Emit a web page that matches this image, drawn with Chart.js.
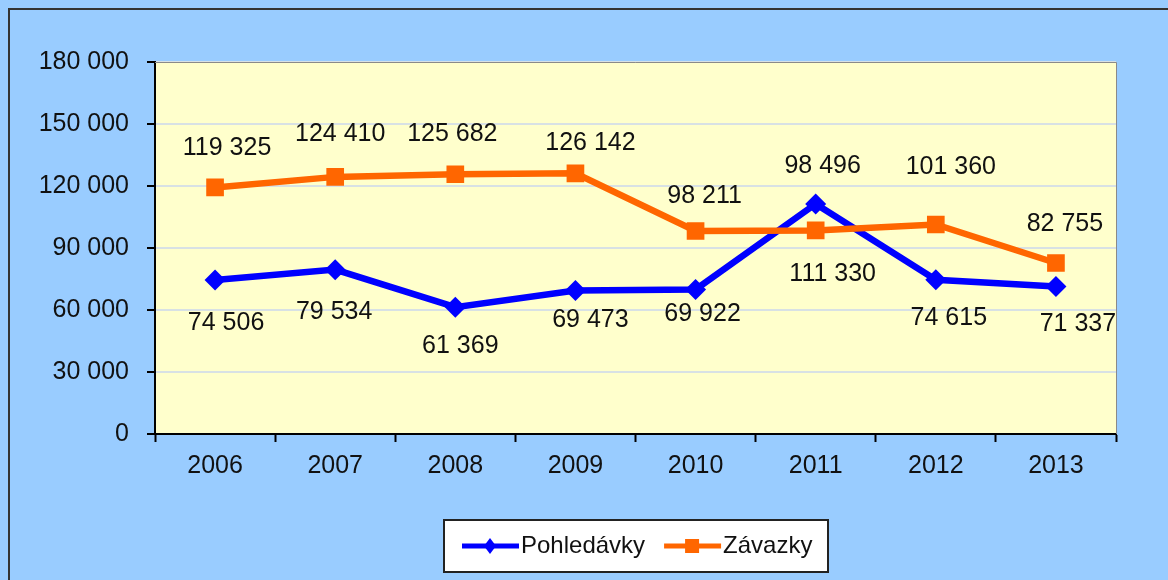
<!DOCTYPE html>
<html>
<head>
<meta charset="utf-8">
<script src="https://cdn.jsdelivr.net/npm/chart.js@4/dist/chart.umd.min.js"></script>
<style>
    html, body { margin: 0; padding: 0; background: #99CCFF; }
    #wrap { width: 1168px; height: 580px; position: relative; }
</style>
</head>
<body>
<div id="wrap"><canvas id="chart" width="1168" height="580"></canvas></div>
<script>
// data
const years = ['2006', '2007', '2008', '2009', '2010', '2011', '2012', '2013'];
const pohledavky = [74506, 79534, 61369, 69473, 69922, 111330, 74615, 71337];
const zavazky = [119325, 124410, 125682, 126142, 98211, 98496, 101360, 82755];
const yTicks = [0, 30000, 60000, 90000, 120000, 150000, 180000];

// label nudges (px) - labels in the original were moved by hand
const pohLabelDx = [11, -1, 5, 15, 7, 17, 13, 22];
const pohLabelDy = [43, 42, 39, 30, 25, 70, 38, 38];
const zavLabelDx = [12, 5, -3, 15, 9, 7, 15, 9];
const zavLabelDy = [-39, -43, -40, -30, -35, -64, -57, -39];

const FONT = '"Liberation Sans", Arial, sans-serif';
const BLUE = '#0000FF';
const ORANGE = '#FF6600';

function fmt(v) {
    return String(v).replace(/\B(?=(\d{3})+(?!\d))/g, ' ');
}

const backgroundPlugin = {
    id: 'bg',
    beforeDraw(chart) {
        const ctx = chart.ctx;
        const a = chart.chartArea;
        ctx.save();
        ctx.fillStyle = '#99CCFF';
        ctx.fillRect(0, 0, chart.width, chart.height);
        ctx.fillStyle = '#FFFFCC';
        ctx.fillRect(a.left, a.top, a.right - a.left, a.bottom - a.top);
        ctx.restore();
    },
    afterDraw(chart) {
        const ctx = chart.ctx;
        const a = chart.chartArea;
        ctx.save();
        // outer frame (top / left)
        ctx.strokeStyle = '#333';
        ctx.lineWidth = 2;
        ctx.beginPath();
        ctx.moveTo(9, chart.height);
        ctx.lineTo(9, 9);
        ctx.lineTo(chart.width, 9);
        ctx.stroke();
        // plot area frame top / right
        ctx.strokeStyle = '#8a8a8a';
        ctx.lineWidth = 1;
        ctx.beginPath();
        ctx.moveTo(a.left, a.top + 0.5);
        ctx.lineTo(a.right + 0.5, a.top + 0.5);
        ctx.lineTo(a.right + 0.5, a.bottom);
        ctx.stroke();
        ctx.restore();
    }
};

const labelPlugin = {
    id: 'pointLabels',
    afterDatasetsDraw(chart) {
        const ctx = chart.ctx;
        ctx.save();
        ctx.font = '25px ' + FONT;
        ctx.fillStyle = '#111';
        ctx.textAlign = 'center';
        ctx.textBaseline = 'middle';
        chart.data.datasets.forEach((ds, i) => {
            const meta = chart.getDatasetMeta(i);
            meta.data.forEach((pt, j) => {
                ctx.fillText(fmt(ds.data[j]), pt.x + ds.labelDx[j], pt.y + ds.labelDy[j]);
            });
        });
        ctx.restore();
    }
};

const legendPlugin = {
    id: 'boxLegend',
    afterDraw(chart) {
        const ctx = chart.ctx;
        const a = chart.chartArea;
        const boxW = 384, boxH = 52, top = 520;
        const left = Math.round((a.left + a.right) / 2 - boxW / 2);
        ctx.save();
        ctx.fillStyle = '#fff';
        ctx.fillRect(left, top, boxW, boxH);
        ctx.strokeStyle = '#222';
        ctx.lineWidth = 2;
        ctx.strokeRect(left, top, boxW, boxH);

        ctx.font = '24px ' + FONT;
        ctx.textBaseline = 'middle';
        const cy = top + boxH / 2;
        const items = [
            { text: 'Pohledávky', color: BLUE, marker: 'diamond' },
            { text: 'Závazky', color: ORANGE, marker: 'square' }
        ];
        let x = left + 18;
        items.forEach(it => {
            ctx.strokeStyle = it.color;
            ctx.fillStyle = it.color;
            ctx.lineWidth = 5;
            ctx.beginPath();
            ctx.moveTo(x, cy);
            ctx.lineTo(x + 57, cy);
            ctx.stroke();
            const mx = x + 28;
            ctx.beginPath();
            if (it.marker === 'diamond') {
                ctx.moveTo(mx, cy - 8);
                ctx.lineTo(mx + 6, cy);
                ctx.lineTo(mx, cy + 8);
                ctx.lineTo(mx - 6, cy);
            } else {
                ctx.rect(mx - 7, cy - 7, 14, 14);
            }
            ctx.fill();
            ctx.fillStyle = '#111';
            ctx.fillText(it.text, x + 59, cy);
            x += 59 + ctx.measureText(it.text).width + 19;
        });
        ctx.restore();
    }
};

new Chart(document.getElementById('chart'), {
    type: 'line',
    data: {
        labels: years,
        datasets: [
            {
                label: 'Pohledávky',
                data: pohledavky,
                borderColor: BLUE,
                backgroundColor: BLUE,
                borderWidth: 6.5,
                pointStyle: 'rectRot',
                pointRadius: 10.5,
                pointBorderWidth: 0,
                tension: 0,
                order: 1,
                labelDx: pohLabelDx,
                labelDy: pohLabelDy
            },
            {
                label: 'Závazky',
                data: zavazky,
                borderColor: ORANGE,
                backgroundColor: ORANGE,
                borderWidth: 6.5,
                pointStyle: 'rect',
                pointRadius: 12.5,
                pointBorderWidth: 0,
                tension: 0,
                order: 0,
                labelDx: zavLabelDx,
                labelDy: zavLabelDy
            }
        ]
    },
    options: {
        responsive: false,
        animation: false,
        layout: { padding: { left: 0, right: 52, top: 62, bottom: 0 } },
        plugins: {
            legend: { display: false },
            tooltip: { enabled: false }
        },
        scales: {
            x: {
                offset: true,
                grid: { offset: true, drawOnChartArea: false, drawTicks: true, tickLength: 8, tickColor: '#000', tickWidth: 2 },
                border: { color: '#000', width: 2 },
                ticks: { color: '#111', font: { size: 25, family: FONT }, padding: 9, maxRotation: 0 },
                afterFit: (scale) => { scale.height = 146; }
            },
            y: {
                min: 0,
                max: 180000,
                afterBuildTicks: (scale) => { scale.ticks = yTicks.map(v => ({ value: v })); },
                grid: { color: '#d8e1e4', lineWidth: 2, tickLength: 8, tickColor: '#000', tickWidth: 2 },
                border: { color: '#000', width: 2 },
                ticks: { color: '#111', font: { size: 25, family: FONT }, padding: 18, callback: (v) => fmt(v) },
                afterFit: (scale) => { scale.width = 155; }
            }
        }
    },
    plugins: [backgroundPlugin, labelPlugin, legendPlugin]
});
</script>
</body>
</html>
